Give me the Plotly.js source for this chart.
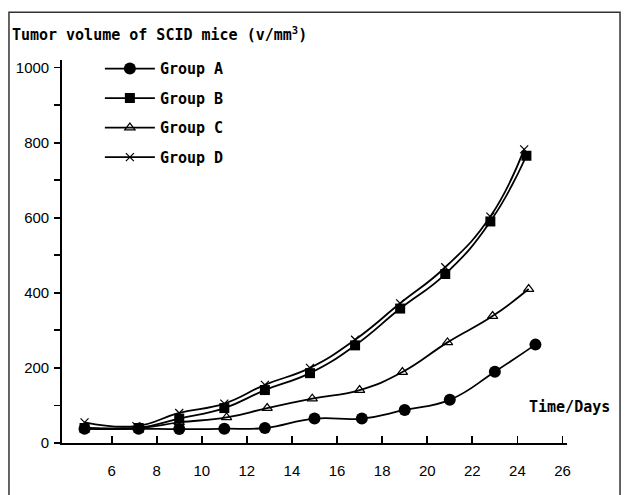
<!DOCTYPE html>
<html><head><meta charset="utf-8">
<script src="https://cdn.plot.ly/plotly-3.0.1.min.js"></script>
<style>html,body{margin:0;padding:0;background:#fff}#chart{width:625px;height:495px}</style>
</head><body><div id="chart"></div>
<script>
const groupNames = ["Group A", "Group B", "Group C", "Group D"];
const daysA = [4.8, 7.2, 9.0, 11.0, 12.8, 15.0, 17.1, 19.0, 21.0, 23.0, 24.8];
const volA  = [38, 38, 37, 38, 40, 65, 65, 88, 115, 190, 262];
const daysB = [4.8, 7.2, 9.0, 11.0, 12.8, 14.8, 16.8, 18.8, 20.8, 22.8, 24.4];
const volB  = [40, 40, 65, 93, 141, 186, 260, 358, 450, 590, 765];
const daysC = [4.8, 7.2, 9.0, 11.1, 12.9, 14.9, 17.0, 18.9, 20.9, 22.9, 24.5];
const volC  = [40, 40, 55, 68, 93, 118, 141, 189, 268, 338, 410];
const daysD = [4.8, 7.1, 9.0, 11.0, 12.8, 14.8, 16.8, 18.8, 20.8, 22.8, 24.3];
const volD  = [55, 45, 80, 105, 155, 200, 275, 372, 468, 603, 782];
const xTicks = [6, 8, 10, 12, 14, 16, 18, 20, 22, 24, 26];
const yTicks = [0, 100, 200, 300, 400, 500, 600, 700, 800, 900, 1000];
const yTickText = ["0", "", "200", "", "400", "", "600", "", "800", "", "1000"];

const mono = "DejaVu Sans Mono, monospace";
const sans = "Liberation Sans, Arial, sans-serif";
const line = {color: "#000", width: 1.8, shape: "spline", smoothing: 1.3};
function tr(name, x, y, marker, g) {
  return {type: "scatter", mode: "lines+markers", name: name, x: x, y: y,
          line: line, marker: marker, legendgroup: g};
}
const data = [
  tr(groupNames[0], daysA, volA, {symbol: "circle", size: 12, color: "#000"}, "a"),
  tr(groupNames[1], daysB, volB, {symbol: "square", size: 10, color: "#000"}, "b"),
  tr(groupNames[2], daysC, volC, {symbol: "triangle-up-open", size: 9, color: "#000", line: {width: 1.2, color: "#000"}}, "c"),
  tr(groupNames[3], daysD, volD, {symbol: "x-thin-open", size: 8, color: "#000", line: {width: 1.2, color: "#000"}}, "d")
];
const layout = {
  width: 625, height: 495,
  margin: {l: 62, r: 58, t: 60, b: 52},
  paper_bgcolor: "#fff", plot_bgcolor: "#fff",
  showlegend: true,
  title: {text: "<b>Tumor volume of SCID mice (v/mm<sup>3</sup>)</b>", x: 0.019, xanchor: "left",
          xref: "container", y: 0.929, yanchor: "middle", yref: "container",
          font: {family: mono, size: 15, color: "#000"}},
  legend: {x: 0.075, y: 1.02, xanchor: "left", yanchor: "top", bgcolor: "rgba(0,0,0,0)",
           itemwidth: 50,
           font: {family: mono, size: 15, color: "#000", weight: "bold"}, tracegroupgap: 7, traceorder: "grouped"},
  xaxis: {range: [3.8, 26.2], tickvals: xTicks, ticks: "inside", ticklen: 7, tickwidth: 1.8,
          tickcolor: "#000", showline: true, linecolor: "#000", linewidth: 1.8, showgrid: false,
          zeroline: false, ticklabelstandoff: 13,
          tickfont: {family: sans, size: 15, color: "#000"}},
  yaxis: {range: [0, 1020], tickvals: yTicks, ticktext: yTickText, ticks: "outside", ticklen: 6,
          tickwidth: 1.8, tickcolor: "#000", showline: true, linecolor: "#000", linewidth: 1.8,
          showgrid: false, zeroline: false, ticklabelstandoff: 2,
          tickfont: {family: sans, size: 15, color: "#000"}},
  annotations: [{text: "<b>Time/Days</b>", xref: "paper", yref: "paper", x: 1.005, y: 0.095,
                 xanchor: "center", yanchor: "middle", showarrow: false,
                 font: {family: mono, size: 15, color: "#000"}}],
  shapes: [{type: "rect", xref: "paper", yref: "paper", x0: -0.105, x1: 1.105, y0: -0.2, y1: 1.125,
            line: {color: "#333", width: 1.5}, fillcolor: "rgba(0,0,0,0)"}]
};
Plotly.newPlot("chart", data, layout, {displayModeBar: false, staticPlot: true});
</script></body></html>
